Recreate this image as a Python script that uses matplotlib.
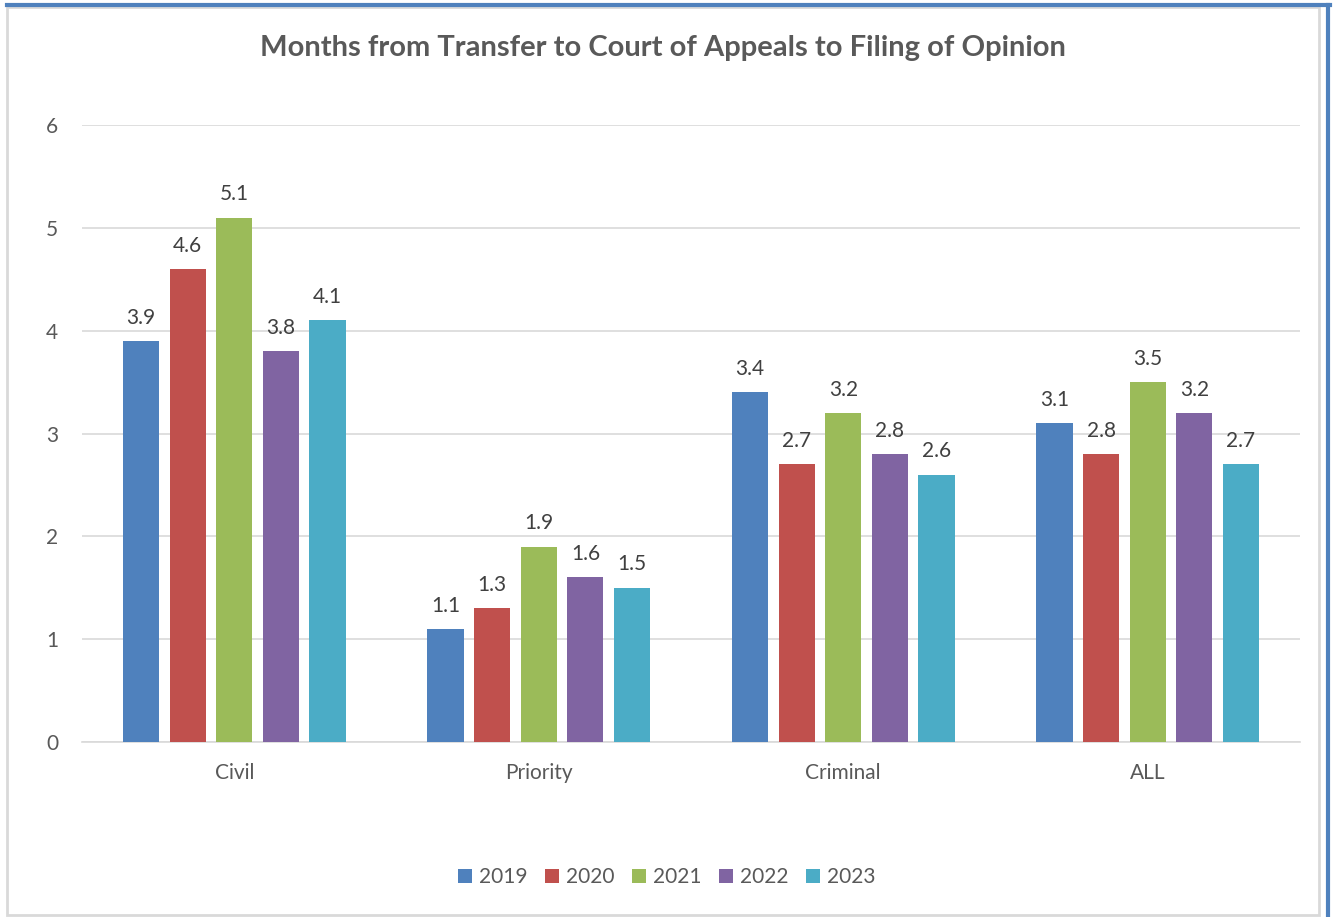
import matplotlib
matplotlib.use("Agg")
import matplotlib.pyplot as plt
import numpy as np
from matplotlib.patches import Rectangle
from matplotlib.lines import Line2D

# ---------------------- Data ----------------------- #

categories = ["Civil", "Priority", "Criminal", "ALL"]
years = ["2019", "2020", "2021", "2022", "2023"]
v2019 = [3.9, 1.1, 3.4, 3.1]
v2020 = [4.6, 1.3, 2.7, 2.8]
v2021 = [5.1, 1.9, 3.2, 3.5]
v2022 = [3.8, 1.6, 2.8, 3.2]
v2023 = [4.1, 1.5, 2.6, 2.7]
series = [v2019, v2020, v2021, v2022, v2023]
colors = ["#4F81BD", "#C0504D", "#9BBB59", "#8064A2", "#4BACC6"]

TEXT = "#595959"
plt.rcParams['font.family'] = ['Lato', 'DejaVu Sans']

# ---------------------- Plot ----------------------- #

fig = plt.figure(figsize=(13.36, 9.17), dpi=100)
W, H = 1336, 917
ax = fig.add_axes([82 / W, 1 - 742 / H, (1300 - 82) / W, (742 - 125) / H])

x = np.arange(len(categories))
step = 0.153
width = 0.119
for i, (vals, c) in enumerate(zip(series, colors)):
    pos = x + (i - 2) * step
    bars = ax.bar(pos, vals, width=width, color=c, label=years[i], zorder=3)
    for b, v in zip(bars, vals):
        ax.text(b.get_x() + b.get_width() / 2, v + 0.13, f"{v:.1f}",
                ha="center", va="bottom", fontsize=15, color="#404040")

ax.set_xlim(-0.5, len(categories) - 0.5)
ax.set_ylim(0, 6)
ax.set_yticks(range(0, 7))
ax.set_xticks(x)
ax.set_xticklabels(categories)
ax.tick_params(axis="both", length=0, labelsize=15, labelcolor=TEXT)
ax.tick_params(axis="y", pad=17)
ax.tick_params(axis="x", pad=15)
ax.grid(axis="y", color="#D9D9D9", linewidth=1.2, zorder=0)
for s in ["top", "right", "left"]:
    ax.spines[s].set_visible(False)
ax.spines["bottom"].set_color("#D9D9D9")
ax.spines["bottom"].set_linewidth(1.2)

fig.text(663 / W, 1 - 48 / H, "Months from Transfer to Court of Appeals to Filing of Opinion",
         ha="center", va="center", fontsize=21, fontweight="bold", color=TEXT)

handles, labels = ax.get_legend_handles_labels()
fig.legend(handles, labels, loc="center", bbox_to_anchor=(667 / W, 1 - 877 / H),
           ncol=5, frameon=False, fontsize=15, labelcolor=TEXT,
           handlelength=0.65, handleheight=0.65, handletextpad=0.35, columnspacing=0.85)

# chart frame: gray inner box plus blue outline on top and right
fig.add_artist(Rectangle((7 / W, 1 - 915 / H), (1319 - 7) / W, (915 - 7) / H,
                         transform=fig.transFigure, fill=False,
                         edgecolor="#D9D9D9", linewidth=2))
fig.add_artist(Line2D([7 / W, 1330 / W], [1 - 4.5 / H, 1 - 4.5 / H],
                      transform=fig.transFigure, color="#4F81BD", linewidth=3))
fig.add_artist(Line2D([1328 / W, 1328 / W], [1 - 4.5 / H, 0],
                      transform=fig.transFigure, color="#4F81BD", linewidth=3))

fig.savefig("out.png", dpi=100)
